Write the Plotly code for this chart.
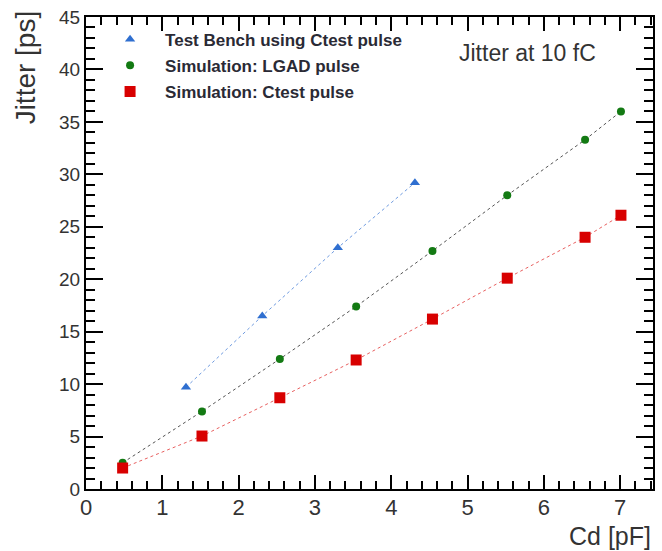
import plotly.graph_objects as go

# Data
bench_cd = [1.31, 2.31, 3.30, 4.31]
bench_jitter = [9.7, 16.5, 23.0, 29.2]

sim_cd = [0.48, 1.52, 2.54, 3.54, 4.54, 5.52, 6.54, 7.01]
lgad_jitter = [2.5, 7.4, 12.4, 17.4, 22.7, 28.0, 33.3, 36.0]
ctest_jitter = [2.0, 5.05, 8.7, 12.3, 16.2, 20.1, 24.0, 26.1]

names = ["Test Bench using Ctest pulse", "Simulation: LGAD pulse", "Simulation: Ctest pulse"]
x_ticks = [0, 1, 2, 3, 4, 5, 6, 7]
y_ticks = [0, 5, 10, 15, 20, 25, 30, 35, 40, 45]

series = [
    (bench_cd, bench_jitter, names[0], "#2f6fd0", "#6f9be0", "triangle-up", 9),
    (sim_cd, lgad_jitter, names[1], "#137a13", "#555555", "circle", 8),
    (sim_cd, ctest_jitter, names[2], "#d80000", "#e86060", "square", 11),
]

fig = go.Figure()
for i, (xs, ys, nm, mc, lc, sym, sz) in enumerate(series):
    fig.add_trace(go.Scatter(x=xs, y=ys, mode="lines", showlegend=False,
                             line=dict(color=lc, width=1, dash="dot"), hoverinfo="skip"))
for i, (xs, ys, nm, mc, lc, sym, sz) in enumerate(series):
    fig.add_trace(go.Scatter(x=xs, y=ys, mode="markers", name=nm, legendgroup=f"g{i}",
                             marker=dict(color=mc, symbol=sym, size=sz, line=dict(width=0))))

axis_common = dict(
    showline=True, linecolor="black", linewidth=2, mirror="allticks",
    ticks="inside", tickcolor="black", tickwidth=2,
    showgrid=False, zeroline=False,
)

fig.update_xaxes(range=[0, 7.43], tickvals=x_ticks, ticklen=14, ticklabelstandoff=-2,
                 tickfont=dict(family="Liberation Sans, Arial", size=22, color="#333333"),
                 minor=dict(ticks="inside", dtick=0.2, ticklen=8, tickcolor="black", tickwidth=1.5, showgrid=False),
                 **axis_common)
fig.update_yaxes(range=[0, 45], tickvals=y_ticks, ticklen=17,
                 tickfont=dict(family="Liberation Sans, Arial", size=19, color="#333333"),
                 minor=dict(ticks="inside", dtick=1, ticklen=9, tickcolor="black", tickwidth=1.5, showgrid=False),
                 **axis_common)

fig.update_layout(
    width=662, height=551,
    margin=dict(l=86, r=7, t=17, b=62),
    paper_bgcolor="white", plot_bgcolor="white",
    showlegend=True,
    legend=dict(x=0.016, y=0.99, xanchor="left", yanchor="top",
                bgcolor="rgba(0,0,0,0)", itemwidth=60, tracegroupgap=1,
                traceorder="grouped",
                font=dict(family="Liberation Sans, Arial", size=17, color="#2a2a35", weight="bold")),
    annotations=[
        dict(text="Jitter [ps]", xref="paper", yref="paper", x=-0.107, y=0.894,
             textangle=-90, showarrow=False, xanchor="center", yanchor="middle",
             font=dict(family="Liberation Sans, Arial", size=28, color="#333333")),
        dict(text="Cd [pF]", xref="paper", yref="paper", x=1.0, y=-0.1,
             showarrow=False, xanchor="right", yanchor="middle",
             font=dict(family="Liberation Sans, Arial", size=25, color="#333333")),
        dict(text="Jitter at 10 fC", xref="paper", yref="paper", x=0.654, y=0.924,
             showarrow=False, xanchor="left", yanchor="middle",
             font=dict(family="Liberation Sans, Arial", size=23, color="#333333")),
    ],
)

fig.write_html("out.html")
